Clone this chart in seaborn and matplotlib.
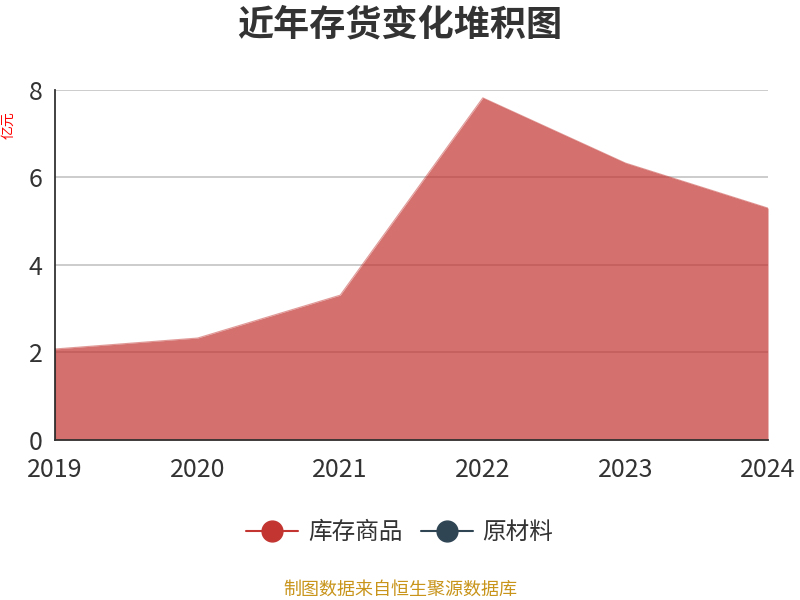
import matplotlib
matplotlib.use("Agg")
import matplotlib.pyplot as plt
import seaborn as sns
import pandas as pd
from matplotlib.lines import Line2D

years = [2019, 2020, 2021, 2022, 2023, 2024]
goods = [2.08, 2.33, 3.31, 7.82, 6.33, 5.30]   # 库存商品
raw = [0, 0, 0, 0, 0, 0]                        # 原材料
series_names = ["库存商品", "原材料"]
colors = ["#c23531", "#2f4554"]

sns.set_style("white")
plt.rcParams['font.family'] = ['Noto Sans CJK SC', 'DejaVu Sans']

df = pd.DataFrame({"year": years, "库存商品": goods, "原材料": raw})

fig = plt.figure(figsize=(8, 6), dpi=100)
ax = fig.add_axes([0.06875, 0.2667, 0.89125, 0.5833])

# 堆积面积
base = [0] * len(years)
top1 = [b + v for b, v in zip(base, df["库存商品"])]
ax.fill_between(df["year"], base, top1, color=colors[0], alpha=0.7, linewidth=0, zorder=2)
sns.lineplot(x=df["year"], y=top1, ax=ax, color=colors[0], linewidth=0.8, alpha=0.5, zorder=3)
top2 = [a + v for a, v in zip(top1, df["原材料"])]
ax.fill_between(df["year"], top1, top2, color=colors[1], alpha=0.7, linewidth=0, zorder=2)
ax.plot([years[0], years[0]], [0, goods[0]], color="#9b2a27", linewidth=1.5, zorder=3)

ax.set_xlim(years[0], years[-1])
ax.set_ylim(0, 8)
ax.set_xticks(years)
ax.set_yticks([0, 2, 4, 6, 8])
ax.set_axisbelow(True)
ax.yaxis.grid(True, color="#c4c4c4", linewidth=1.2)
for s in ["top", "right"]:
    ax.spines[s].set_visible(False)
for s in ["left", "bottom"]:
    ax.spines[s].set_color("#333333")
    ax.spines[s].set_linewidth(1.3)
    ax.spines[s].set_zorder(4)
ax.tick_params(axis="both", direction="out", length=6, width=1.3, color="#333333",
               labelsize=18, labelcolor="#333333")
ax.tick_params(axis="y", pad=3)
ax.tick_params(axis="x", pad=6)
ax.set_xlabel("")
ax.set_ylabel("亿元", color="red", fontsize=10)
ax.yaxis.set_label_coords(-0.055, 0.9)

fig.suptitle("近年存货变化堆积图", x=0.5, y=0.99, fontsize=26, fontweight="bold", color="#333333")

handles = [Line2D([0], [0], color=c, marker="o", markersize=15, linewidth=1.5) for c in colors]
fig.legend(handles, series_names, loc="center", bbox_to_anchor=(0.5, 0.112), ncol=2,
           frameon=False, fontsize=17, handlelength=2.2, columnspacing=0.8, handletextpad=0.4,
           labelcolor="#333333")

fig.text(0.5, 0.018, "制图数据来自恒生聚源数据库", ha="center", va="center", fontsize=13, color="#c8941a")

fig.savefig("out.png", dpi=100)
